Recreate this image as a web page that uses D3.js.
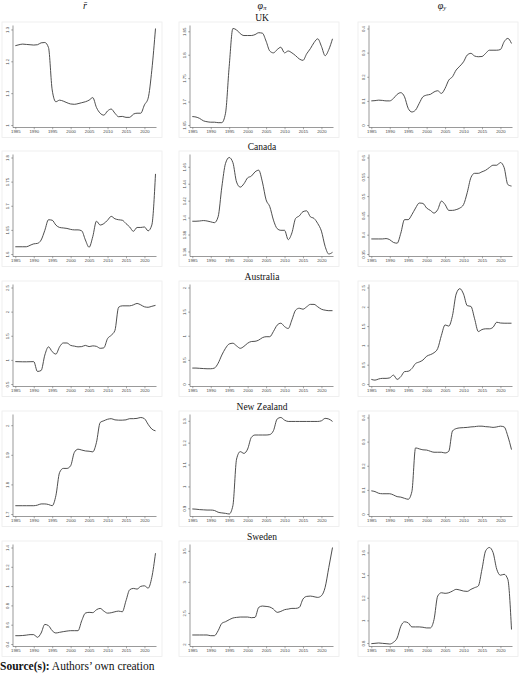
<!DOCTYPE html>
<html>
<head>
<meta charset="utf-8">
<script src="https://cdn.jsdelivr.net/npm/d3@7"></script>
<style>
  body { margin: 0; background: #fff; }
</style>
</head>
<body>
<div id="chart"></div>
<script>
// years on the x axis, one value per year
var years = [1985,1986,1987,1988,1989,1990,1991,1992,1993,1994,1995,1996,1997,1998,1999,
  2000,2001,2002,2003,2004,2005,2006,2007,2008,2009,2010,2011,2012,2013,2014,2015,
  2016,2017,2018,2019,2020,2021,2022,2023];
var xTicks = [1985,1990,1995,2000,2005,2010,2015,2020];
var countries = ["UK", "Canada", "Australia", "New Zealand", "Sweden"];

// UK
var ukR = [1.249,1.252,1.254,1.253,1.252,1.251,1.252,1.258,1.259,1.243,1.11,1.073,1.078,1.075,1.07,
  1.066,1.065,1.067,1.07,1.073,1.078,1.086,1.055,1.037,1.031,1.044,1.05,1.037,1.026,1.027,1.024,
  1.024,1.034,1.037,1.037,1.063,1.084,1.172,1.303];
var ukPi = [1.668,1.667,1.664,1.659,1.657,1.656,1.656,1.655,1.655,1.675,1.775,1.856,1.853,1.845,1.841,
  1.841,1.841,1.843,1.847,1.846,1.829,1.808,1.804,1.811,1.816,1.804,1.808,1.804,1.798,1.791,1.788,
  1.802,1.813,1.826,1.834,1.818,1.798,1.811,1.834];
var ukY = [0.10,0.101,0.103,0.102,0.10,0.10,0.11,0.127,0.134,0.117,0.069,0.054,0.062,0.09,0.117,
  0.124,0.127,0.137,0.142,0.131,0.152,0.186,0.2,0.228,0.244,0.262,0.29,0.297,0.286,0.283,0.284,
  0.297,0.31,0.31,0.31,0.313,0.345,0.359,0.338];

// Canada
var caR = [1.615,1.615,1.615,1.615,1.618,1.621,1.622,1.629,1.649,1.671,1.67,1.66,1.655,1.654,1.653,
  1.651,1.65,1.65,1.648,1.629,1.614,1.636,1.668,1.66,1.663,1.67,1.678,1.673,1.671,1.67,1.663,
  1.656,1.647,1.655,1.655,1.656,1.648,1.66,1.766];
var caPi = [1.3957,1.3957,1.396,1.3965,1.396,1.395,1.394,1.401,1.436,1.464,1.471,1.465,1.442,1.436,1.44,
  1.447,1.449,1.454,1.456,1.442,1.421,1.413,1.397,1.387,1.385,1.385,1.374,1.382,1.399,1.402,1.407,
  1.408,1.401,1.399,1.393,1.384,1.366,1.357,1.359];
var caY = [0.389,0.389,0.389,0.389,0.39,0.387,0.38,0.378,0.404,0.439,0.439,0.452,0.469,0.482,0.481,
  0.469,0.463,0.456,0.465,0.487,0.478,0.463,0.463,0.465,0.469,0.478,0.509,0.548,0.559,0.559,0.563,
  0.567,0.574,0.58,0.58,0.587,0.574,0.53,0.526];

// Australia
var auR = [0.964,0.962,0.96,0.96,0.962,0.964,0.76,0.78,1.1,1.27,1.17,1.12,1.27,1.35,1.35,
  1.3,1.285,1.27,1.275,1.3,1.275,1.29,1.28,1.24,1.25,1.44,1.51,1.61,2.09,2.12,2.12,
  2.12,2.14,2.17,2.14,2.1,2.09,2.11,2.13];
var auPi = [0.33,0.33,0.325,0.32,0.316,0.316,0.33,0.43,0.6,0.74,0.83,0.845,0.79,0.74,0.78,
  0.845,0.88,0.885,0.91,0.96,0.98,0.98,1.09,1.22,1.26,1.19,1.15,1.33,1.53,1.57,1.55,
  1.6,1.65,1.65,1.6,1.55,1.53,1.52,1.52];
var auY = [0.12,0.10,0.13,0.146,0.146,0.16,0.23,0.12,0.19,0.32,0.33,0.40,0.53,0.57,0.62,
  0.72,0.76,0.81,0.92,1.26,1.53,1.5,1.77,2.33,2.47,2.33,2.03,2.01,1.69,1.36,1.41,
  1.43,1.43,1.47,1.6,1.58,1.575,1.575,1.575];

// New Zealand
var nzR = [1.728,1.728,1.728,1.728,1.728,1.728,1.73,1.734,1.734,1.732,1.728,1.762,1.84,1.854,1.854,
  1.863,1.908,1.919,1.916,1.913,1.912,1.91,1.942,2.009,2.015,2.02,2.022,2.018,2.017,2.017,2.018,
  2.022,2.022,2.023,2.026,2.022,2.003,1.987,1.981];
var nzPi = [0.897,0.896,0.894,0.893,0.892,0.892,0.89,0.882,0.879,0.877,0.874,0.912,1.125,1.159,1.151,
  1.171,1.224,1.235,1.235,1.235,1.235,1.237,1.255,1.308,1.315,1.303,1.297,1.297,1.297,1.297,1.297,
  1.297,1.297,1.297,1.297,1.3,1.311,1.308,1.297];
var nzY = [0.096,0.093,0.086,0.084,0.084,0.084,0.079,0.072,0.07,0.065,0.061,0.093,0.274,0.27,0.266,
  0.265,0.26,0.256,0.256,0.256,0.253,0.26,0.344,0.354,0.357,0.358,0.359,0.361,0.362,0.364,0.364,
  0.362,0.361,0.359,0.361,0.364,0.361,0.323,0.267];

// Sweden
var seR = [0.486,0.486,0.488,0.492,0.497,0.497,0.469,0.514,0.603,0.59,0.538,0.514,0.521,0.528,0.534,
  0.538,0.538,0.538,0.641,0.72,0.728,0.725,0.755,0.769,0.741,0.72,0.724,0.734,0.741,0.734,0.848,
  0.962,0.976,0.969,0.997,1.003,0.979,1.09,1.341];
var sePi = [2.145,2.145,2.145,2.145,2.145,2.134,2.134,2.214,2.332,2.359,2.391,2.418,2.428,2.434,2.434,
  2.434,2.423,2.428,2.589,2.611,2.605,2.595,2.562,2.509,2.525,2.552,2.562,2.573,2.573,2.589,2.723,
  2.766,2.771,2.761,2.75,2.777,2.911,3.232,3.553];
var seY = [0.794,0.797,0.8,0.797,0.794,0.791,0.806,0.844,0.948,0.987,0.978,0.942,0.942,0.942,0.939,
  0.933,0.933,1.007,1.215,1.244,1.239,1.244,1.259,1.274,1.268,1.259,1.256,1.274,1.289,1.304,1.452,
  1.615,1.644,1.6,1.452,1.399,1.407,1.363,0.919];

// y tick values per panel (rows = countries, columns = r-bar, phi_pi, phi_y)
var ukTicks = [[1,1.1,1.2,1.3], [1.65,1.7,1.75,1.8,1.85], [0,0.1,0.2,0.3,0.4]];
var caTicks = [[1.6,1.65,1.7,1.75,1.8], [1.36,1.38,1.4,1.42,1.44,1.46], [0.35,0.4,0.45,0.5,0.55,0.6]];
var auTicks = [[0.5,1,1.5,2,2.5], [0,0.5,1,1.5,2], [0,0.5,1,1.5,2,2.5]];
var nzTicks = [[1.7,1.8,1.9,2], [0.9,1,1.1,1.2,1.3], [0,0.1,0.2,0.3,0.4]];
var seTicks = [[0.4,0.6,0.8,1,1.2,1.4], [2,2.5,3,3.5], [0.8,1,1.2,1.4,1.6]];

var series = [[ukR, ukPi, ukY], [caR, caPi, caY], [auR, auPi, auY], [nzR, nzPi, nzY], [seR, sePi, seY]];
var ticks = [ukTicks, caTicks, auTicks, nzTicks, seTicks];

var W = 520, H = 673;
var colLeft = [2, 179, 358];
var rowTop = [26, 155, 285, 415, 545];
var plotH = 101.5;
var serif = "'Liberation Serif', 'Times New Roman', serif";
var sans = "'Liberation Sans', Arial, sans-serif";

var svg = d3.select("#chart").append("svg")
  .attr("width", W).attr("height", H)
  .style("background", "#fff");

// column headers
var headers = svg.append("g").attr("font-family", serif).attr("font-size", 10)
  .attr("font-style", "italic").attr("fill", "#111").attr("text-anchor", "middle");
headers.append("text").attr("x", 85).attr("y", 8.5).text("r\u0304");
var hp = headers.append("text").attr("x", 262).attr("y", 8.5);
hp.append("tspan").text("\u03c6");
hp.append("tspan").attr("font-size", 6.5).attr("dy", 1.5).text("\u03c0");
var hy = headers.append("text").attr("x", 442).attr("y", 8.5);
hy.append("tspan").text("\u03c6");
hy.append("tspan").attr("font-size", 6.5).attr("dy", 1.5).text("y");

countries.forEach(function(name, r) {
  var top = rowTop[r], bottom = top + plotH;

  svg.append("text")
    .attr("x", 262).attr("y", top - 5)
    .attr("text-anchor", "middle")
    .attr("font-family", serif).attr("font-size", 9.5)
    .attr("fill", "#111")
    .text(name);

  for (var c = 0; c < 3; c++) {
    var left = colLeft[c];
    var vals = series[r][c];
    var tk = ticks[r][c];
    var g = svg.append("g");

    // faint panel frame
    g.append("rect")
      .attr("x", left).attr("y", top - 4)
      .attr("width", 160).attr("height", plotH + 14)
      .attr("fill", "#fff").attr("stroke", "#ececec").attr("stroke-width", 0.8);

    var x = d3.scaleLinear().domain([1985, 2023]).range([left + 13.3, left + 153.5]);
    var lo = Math.min(tk[0], d3.min(vals)), hi = Math.max(tk[tk.length - 1], d3.max(vals));
    var y = d3.scaleLinear().domain([lo, hi]).range([bottom - 2.5, top + 2.5]);

    // x axis
    var xa = g.append("g").attr("transform", "translate(0," + bottom + ")")
      .call(d3.axisBottom(x).tickValues(xTicks).tickFormat(d3.format("d")).tickSize(1.8).tickPadding(1));
    xa.select(".domain").attr("d", "M" + (left + 11) + ",0H" + (left + 154.5));
    xa.selectAll("line").attr("stroke", "#555").attr("stroke-width", 0.5);
    xa.select(".domain").attr("stroke", "#555").attr("stroke-width", 0.6);
    xa.selectAll("text").attr("font-family", sans).attr("font-size", 4.3).attr("fill", "#444");

    // y axis
    var ya = g.append("g").attr("transform", "translate(" + (left + 11) + ",0)")
      .call(d3.axisLeft(y).tickValues(tk).tickFormat(function(d) { return String(d); })
        .tickSize(1.8).tickPadding(1));
    ya.select(".domain").attr("d", "M0," + (top - 0.5) + "V" + bottom)
      .attr("stroke", "#555").attr("stroke-width", 0.6);
    ya.selectAll("line").attr("stroke", "#555").attr("stroke-width", 0.5);
    ya.selectAll(".tick text")
      .attr("font-family", sans).attr("font-size", 4.3).attr("fill", "#444")
      .attr("text-anchor", "middle").attr("dy", null)
      .attr("x", null)
      .attr("transform", "translate(-4.5,0) rotate(-90)");

    var line = d3.line()
      .x(function(d, i) { return x(years[i]); })
      .y(function(d) { return y(d); })
      .curve(d3.curveMonotoneX);

    g.append("path")
      .datum(vals)
      .attr("d", line)
      .attr("fill", "none")
      .attr("stroke", "#3a3a3a")
      .attr("stroke-width", 0.9);
  }
});

// source note
var src = svg.append("text").attr("x", 0).attr("y", 669.5)
  .attr("font-family", serif).attr("font-size", 11.5).attr("fill", "#111");
src.append("tspan").attr("font-weight", "bold").text("Source(s):");
src.append("tspan").text(" Authors\u2019 own creation");
</script>
</body>
</html>
